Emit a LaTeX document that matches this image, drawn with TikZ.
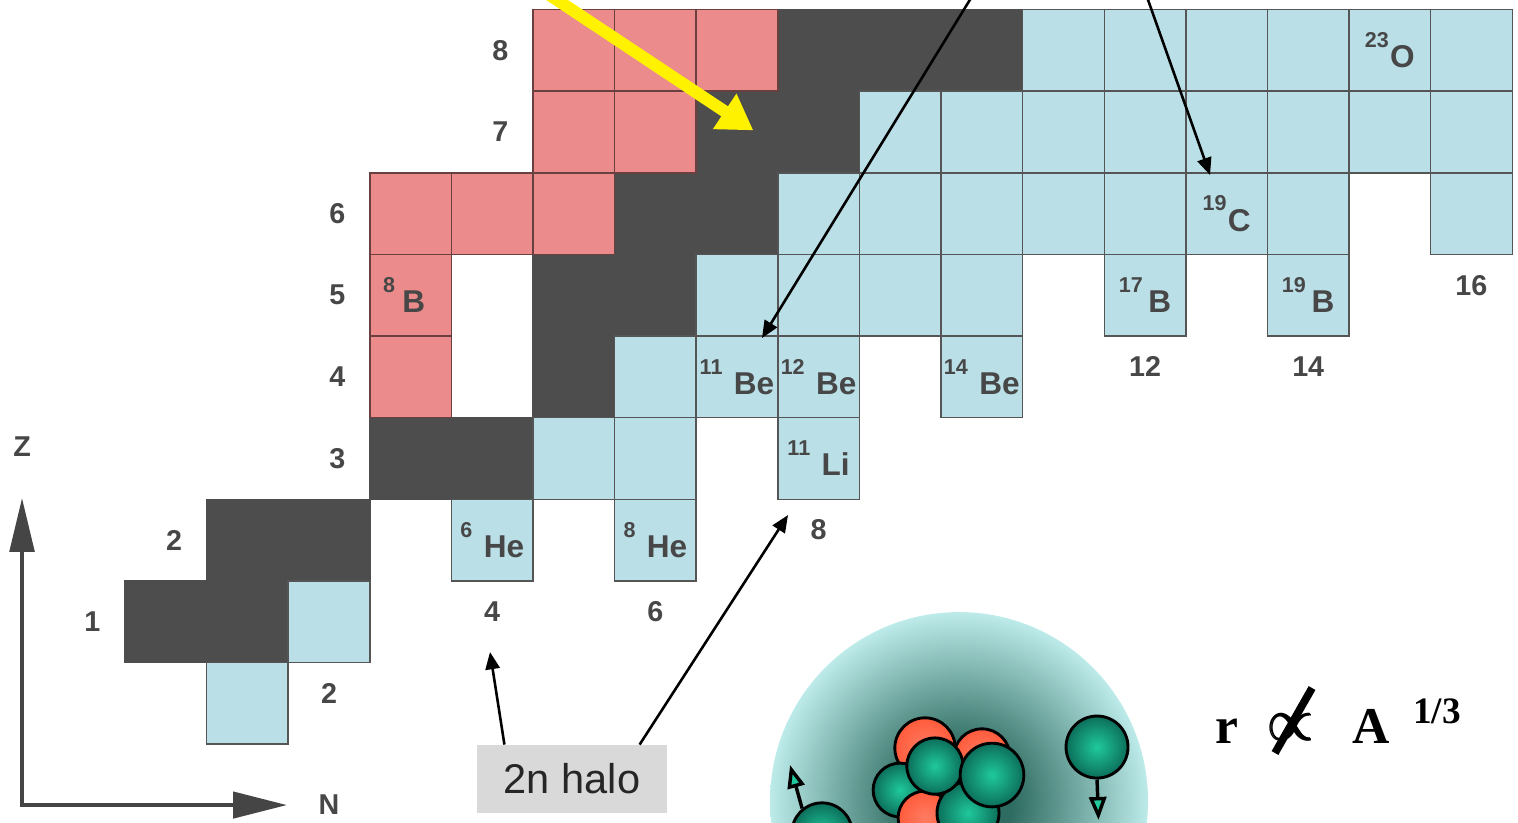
\documentclass[tikz,border=0pt]{standalone}
\usepackage{amsmath}
\usepackage{fontspec}
\setmainfont{Liberation Serif}
\setsansfont{Liberation Sans}
\usetikzlibrary{arrows.meta}

\definecolor{stab}{HTML}{4D4D4D}
\definecolor{prich}{HTML}{EC8B8B}
\definecolor{nrich}{HTML}{BADFE7}
\definecolor{gridc}{HTML}{555555}
\definecolor{labc}{HTML}{474747}
\definecolor{axisc}{HTML}{454545}
\definecolor{halobg}{HTML}{D9D9D9}
\definecolor{cloudin}{HTML}{2E6B60}
\definecolor{cloudout}{HTML}{C4F2F1}
\definecolor{neutr}{HTML}{0C6E5A}
\definecolor{neutrhi}{HTML}{1FC99C}
\definecolor{prot}{HTML}{FF5B3B}

\pgfdeclareradialshading{halocloud}{\pgfpoint{0bp}{0bp}}{color(0bp)=(cloudin); color(7bp)=(cloudin); color(26bp)=(cloudout); color(50bp)=(cloudout)}

\newcommand{\nuc}[3][4pt]{\raisebox{7pt}{\fontsize{7.5}{8}\selectfont #2}\hspace{#1}#3}

\begin{document}
\begin{tikzpicture}
  [x=1cm,y=1cm,
   cell/.style={rectangle,inner sep=0pt,minimum size=1cm,line width=0.5pt,draw=gridc},
   scell/.style={cell,fill=stab,draw=stab},
   pcell/.style={cell,fill=prich,draw=prich!45!black},
   ncell/.style={cell,fill=nrich},
   num/.style={font=\sffamily\bfseries\fontsize{10}{12}\selectfont,text=labc},
   isolab/.style={font=\sffamily\bfseries\fontsize{11}{12}\selectfont,text=labc,inner sep=0pt},
   axisline/.style={draw=axisc,line width=1.4pt},
   ptr/.style={-{Triangle[length=6pt,width=5pt]},line width=0.9pt},
   halobox/.style={fill=halobg,minimum width=2.33cm,minimum height=0.83cm,text=black!85,font=\sffamily\fontsize{14.5}{16}\selectfont},
   neutron/.style={circle,draw=black,line width=1pt,inner sep=0pt,minimum size=#1,inner color=neutrhi,outer color=neutr},
   proton/.style={circle,draw=black,line width=1pt,inner sep=0pt,minimum size=#1,inner color=prot!80!white,outer color=prot},
   spin/.style={-{Triangle[length=8pt,width=6pt,fill=neutrhi]},line width=1.2pt},
   form/.style={font=\rmfamily\bfseries\fontsize{18}{20}\selectfont,inner sep=0pt,anchor=base}]

  \path[use as bounding box] (-1.532,-0.956) rectangle (17.071,9.118);
  \clip (-1.532,-0.956) rectangle (17.071,9.118);

  % chart cells, named c<N>-<Z>
  \foreach \n/\z in {0/1,1/1,1/2,2/2,3/3,4/3,5/4,5/5,6/5,6/6,7/6,7/7,8/7,8/8,9/8,10/8}
    \node[scell] (c\n-\z) at (\n+.5,\z+.5) {};
  \foreach \n/\z in {3/4,3/5,3/6,4/6,5/6,5/7,6/7,5/8,6/8,7/8}
    \node[pcell] (c\n-\z) at (\n+.5,\z+.5) {};
  \foreach \n/\z in {1/0,2/1,4/2,6/2,5/3,6/3,8/3,6/4,7/4,8/4,10/4,7/5,8/5,9/5,10/5,12/5,14/5,
      8/6,9/6,10/6,11/6,12/6,13/6,14/6,16/6,9/7,10/7,11/7,12/7,13/7,14/7,15/7,16/7,
      11/8,12/8,13/8,14/8,15/8,16/8}
    \node[ncell] (c\n-\z) at (\n+.5,\z+.5) {};

  \node[isolab] (b8) at ([xshift=-0.08cm]c3-5) {\nuc[2.5pt]{8}{B}};
  \node[isolab] (he6) at (c4-2) {\nuc{6}{He}};
  \node[isolab] (he8) at (c6-2) {\nuc{8}{He}};
  \node[isolab] (li11) at (c8-3) {\nuc{11}{Li}};
  \node[isolab] (be11) at (c7-4) {\nuc{11}{Be}};
  \node[isolab] (be12) at (c8-4) {\nuc{12}{Be}};
  \node[isolab] (be14) at (c10-4) {\nuc{14}{Be}};
  \node[isolab] (b17) at (c12-5) {\nuc[2pt]{17}{B}};
  \node[isolab] (b19) at (c14-5) {\nuc[2pt]{19}{B}};
  \node[isolab] (c19) at (c13-6) {\nuc[0.5pt]{19}{C}};
  \node[isolab] (o23) at (c15-8) {\nuc[0.5pt]{23}{O}};

  \foreach \z/\n in {1/0,2/1,3/3,4/3,5/3,6/3,7/5,8/5}
    \node[num] (z\z) at ([xshift=-0.39cm]c\n-\z.west) {\z};
  \foreach \n/\z in {2/1,4/2,6/2,8/3,12/5,14/5,16/6}
    \node[num] (n\n) at ([yshift=-0.37cm]c\n-\z.south) {\n};

  % axes
  \coordinate (o) at (-1.262,-0.748);
  \coordinate (ztip) at (-1.262,3.015);
  \coordinate (ntip) at (1.985,-0.748);
  \draw[axisline,{Triangle[length=0.66cm,width=0.3cm]}-{Triangle[length=0.66cm,width=0.32cm]}]
    (ztip) -- (o) -- (ntip);
  \node[num] (zlab) at (-1.262,3.64) {Z};
  \node[num] (nlab) at (2.5,-0.748) {N};

  % pointers coming in from above
  \coordinate (ysrc) at (4.69,9.52);
  \coordinate (ytip) at (7.70,7.52);
  \draw[yellow,line width=4.2pt,-{Triangle[length=12pt,width=14pt]}] (ysrc) -- (ytip);
  \coordinate (s1) at (10.60,9.52);
  \coordinate (t1) at (7.806,4.975);
  \coordinate (s2) at (12.395,9.52);
  \coordinate (t2) at (13.297,6.973);
  \draw[ptr] (s1) -- (t1);
  \draw[ptr] (s2) -- (t2);

  \node[halobox] (halo) at (5.478,-0.429) {2n halo};
  \coordinate (t4) at (4.473,1.127);
  \coordinate (t8) at (8.125,2.806);
  \draw[ptr] (halo.153) -- (t4);
  \draw[ptr] (halo.27) -- (t8);

  % halo nucleus
  \shade[shading=halocloud] (10.221,-0.699) circle (2.316);
  \node[proton=0.74cm] (p1) at (9.804,-0.049) {};
  \node[proton=0.69cm] (p2) at (10.502,-0.159) {};
  \node[neutron=0.66cm] (k1) at (9.498,-0.564) {};
  \node[proton=0.66cm] (p3) at (9.804,-0.907) {};
  \node[neutron=0.76cm] (k2) at (10.331,-0.846) {};
  \node[neutron=0.69cm] (k3) at (9.926,-0.270) {};
  \node[neutron=0.78cm] (k4) at (10.625,-0.380) {};

  \node[neutron=0.76cm] (nr) at (11.912,-0.037) {};
  \coordinate (nrtip) at (11.93,-0.93);
  \draw[spin] (nr.south) -- (nrtip);
  \node[neutron=0.74cm] (nl) at (8.542,-1.091) {};
  \coordinate (nltip) at (8.150,-0.257);
  \draw[spin] (nl.129) -- (nltip);

  % radius law
  \node[form] (rr) at (13.505,0.012) {r};
  \node[form,font=\fontsize{20.74}{22}\selectfont] (pr) at (14.301,0.04) {$\pmb{\propto}$};
  \coordinate (slt) at (14.547,0.686);
  \coordinate (slb) at (14.093,-0.110);
  \draw[line width=2.7pt] (slt) -- (slb);
  \node[form] (aa) at (15.270,0.012) {A};
  \node[form,font=\rmfamily\bfseries\fontsize{13}{14}\selectfont] (pw) at (16.078,0.257) {1/3};

\end{tikzpicture}
\end{document}
